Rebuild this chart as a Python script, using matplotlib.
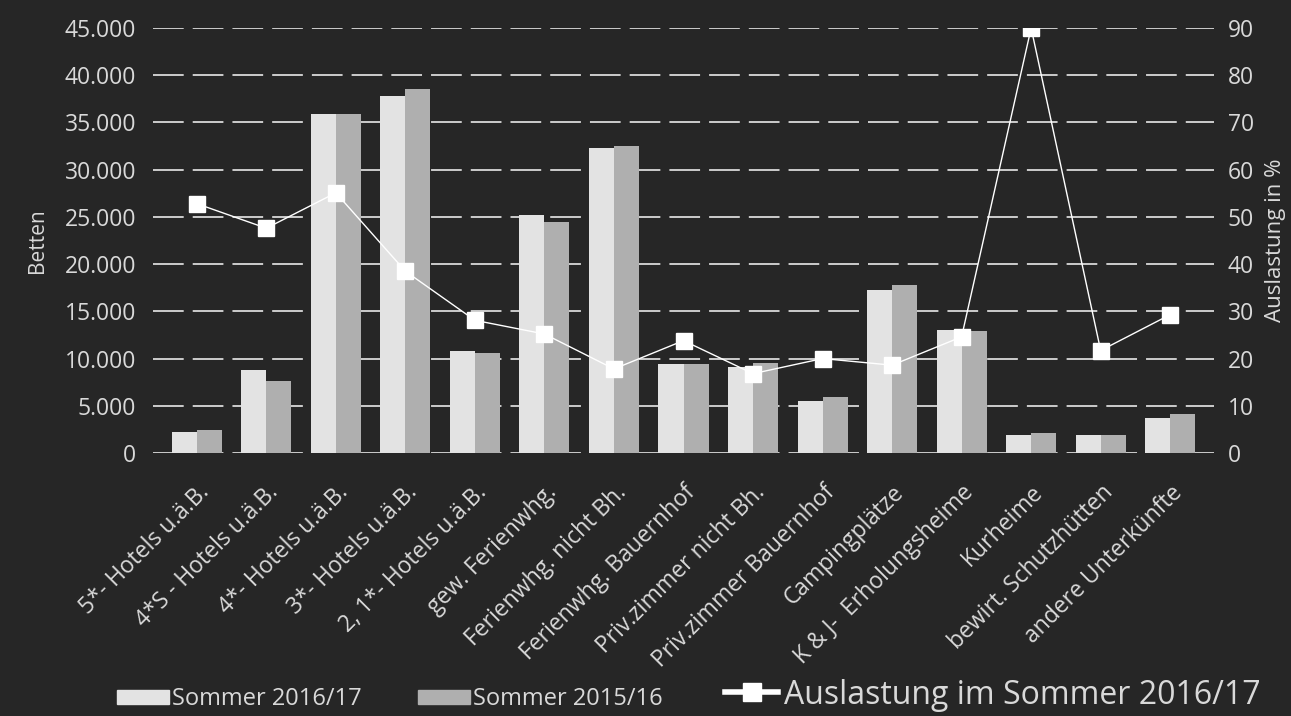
import numpy as np
import matplotlib.pyplot as plt
from matplotlib.lines import Line2D
from matplotlib.patches import Patch

plt.rcParams['font.family'] = ['Open Sans', 'DejaVu Sans']

# categories and values
kategorien = ["5*- Hotels u.ä.B.", "4*S - Hotels u.ä.B.", "4*- Hotels u.ä.B.",
              "3*- Hotels u.ä.B.", "2, 1*- Hotels u.ä.B.", "gew. Ferienwhg.",
              "Ferienwhg. nicht Bh.", "Ferienwhg. Bauernhof", "Priv.zimmer nicht Bh.",
              "Priv.zimmer Bauernhof", "Campingplätze", "K & J-  Erholungsheime",
              "Kurheime", "bewirt. Schutzhütten", "andere Unterkünfte"]
betten_2017 = [2200, 8800, 35900, 37800, 10800, 25200, 32300, 9450, 9100,
               5500, 17300, 13050, 1950, 1950, 3750]
betten_2016 = [2400, 7650, 35900, 38500, 10600, 24500, 32500, 9450, 9550,
               5950, 17800, 12950, 2150, 1950, 4150]
auslastung_2017 = [52.8, 47.6, 55.1, 38.5, 28.1, 25.2, 17.8, 23.8, 16.8,
                   20.0, 18.6, 24.6, 90.0, 21.7, 29.3]

bg = "#262626"
txt = "#d9d9d9"
hell = "#e3e3e3"
dunkel = "#afafaf"

fig = plt.figure(figsize=(12.91, 7.16), dpi=100, facecolor=bg)
ax = fig.add_axes([153 / 1291, 1 - 453 / 716, (1214 - 153) / 1291, 425 / 716])
ax.set_facecolor(bg)

x = np.arange(len(kategorien))
w = 0.36
ax.bar(x - w / 2, betten_2017, w, color=hell, zorder=2)
ax.bar(x + w / 2, betten_2016, w, color=dunkel, zorder=2)

ax.set_xlim(-0.63, 14.63)
ax.set_ylim(0, 45000)
ax.set_yticks(np.arange(0, 45001, 5000))
ax.set_yticklabels(["0" if v == 0 else f"{v:,}".replace(",", ".") for v in range(0, 45001, 5000)])
ax.grid(axis="y", color=txt, linestyle=(0, (17, 5)), linewidth=1.3, zorder=0)
ax.set_xticks(x)
ax.set_xticklabels(kategorien, rotation=45, ha="right", rotation_mode="anchor")
ax.tick_params(axis="both", length=0, colors=txt, labelsize=16.5)
ax.tick_params(axis="x", pad=20)
ax.tick_params(axis="y", pad=12)
for s in ax.spines.values():
    s.set_visible(False)
ax.set_ylabel("Betten", color=txt, fontsize=15, labelpad=12)

ax2 = ax.twinx()
ax2.plot(x, auslastung_2017, color="white", linewidth=1, marker="s",
         markersize=12, markerfacecolor="white", markeredgecolor="white", zorder=5)
ax2.set_ylim(0, 90)
ax2.set_yticks(np.arange(0, 91, 10))
ax2.tick_params(axis="y", length=0, colors=txt, labelsize=16.5, pad=10)
for s in ax2.spines.values():
    s.set_visible(False)
ax2.set_ylabel("Auslastung in %", color=txt, fontsize=16, labelpad=8)

h_bars = [Patch(color=hell, label="Sommer 2016/17"),
          Patch(color=dunkel, label="Sommer 2015/16")]
fig.legend(handles=h_bars, loc="center left", bbox_to_anchor=(117 / 1291, 1 - 699 / 716),
           ncol=2, frameon=False, fontsize=17, labelcolor=txt, handlelength=2.2,
           handleheight=0.55, handletextpad=0.15, columnspacing=2.35,
           borderpad=0, borderaxespad=0)
h_line = [Line2D([0], [0], color="white", linewidth=4, marker="s", markersize=13,
                 label="Auslastung im Sommer 2016/17")]
fig.legend(handles=h_line, loc="center left", bbox_to_anchor=(725 / 1291, 1 - 695 / 716),
           frameon=False, fontsize=23, labelcolor=txt, handlelength=1.66,
           handletextpad=0.2, borderpad=0, borderaxespad=0)

fig.savefig("out.png", dpi=100, facecolor=bg)
